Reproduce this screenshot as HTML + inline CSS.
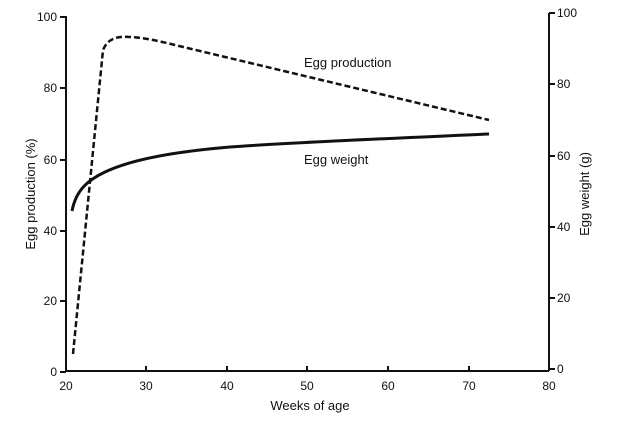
<!DOCTYPE html>
<html><head><meta charset="utf-8"><style>
html,body{margin:0;padding:0;background:#fff;width:620px;height:422px;overflow:hidden}
text{font-family:"Liberation Sans",Arial,sans-serif;fill:#111}
</style></head><body>
<svg width="620" height="422" viewBox="0 0 620 422">
<g stroke="#111" stroke-width="2" fill="none">
<line x1="66" y1="16" x2="66" y2="372"/>
<line x1="549" y1="13" x2="549" y2="371"/>
<line x1="66" y1="371" x2="549" y2="371"/>
<!-- left ticks -->
<line x1="60" y1="17" x2="66" y2="17"/><line x1="60" y1="88" x2="66" y2="88"/>
<line x1="60" y1="160" x2="66" y2="160"/><line x1="60" y1="231" x2="66" y2="231"/>
<line x1="60" y1="301" x2="66" y2="301"/><line x1="60" y1="372" x2="66" y2="372"/>
<!-- right ticks -->
<line x1="549" y1="13" x2="555" y2="13"/><line x1="549" y1="84" x2="555" y2="84"/>
<line x1="549" y1="156" x2="555" y2="156"/><line x1="549" y1="227" x2="555" y2="227"/>
<line x1="549" y1="298" x2="555" y2="298"/><line x1="549" y1="369" x2="555" y2="369"/>
<!-- x ticks -->
<line x1="146" y1="366" x2="146" y2="371"/><line x1="227" y1="366" x2="227" y2="371"/>
<line x1="307" y1="366" x2="307" y2="371"/><line x1="388" y1="366" x2="388" y2="371"/>
<line x1="469" y1="366" x2="469" y2="371"/>
</g>
<path d="M73,354 L103,50 C108,38 118,36 130,37 C150,38 170,44 200,51 L489,120" stroke="#111" stroke-width="2.5" fill="none" stroke-dasharray="6,3"/>
<path d="M72,211 C76,190 88,180 105,172 C130,160 170,152 230,147 C300,142 400,138 489,134" stroke="#111" stroke-width="3" fill="none"/>
<g font-size="12" text-anchor="end">
<text x="57" y="21">100</text><text x="57" y="92">80</text><text x="57" y="164">60</text>
<text x="57" y="235">40</text><text x="57" y="305">20</text><text x="57" y="376">0</text>
</g>
<g font-size="12" text-anchor="start">
<text x="557" y="17">100</text><text x="557" y="88">80</text><text x="557" y="160">60</text>
<text x="557" y="231">40</text><text x="557" y="302">20</text><text x="557" y="373">0</text>
</g>
<g font-size="12" text-anchor="middle">
<text x="66" y="390">20</text><text x="146" y="390">30</text><text x="227" y="390">40</text>
<text x="307" y="390">50</text><text x="388" y="390">60</text><text x="469" y="390">70</text>
<text x="549" y="390">80</text>
<text x="310" y="410" font-size="13">Weeks of age</text>
</g>
<text x="304" y="67" font-size="13">Egg production</text>
<text x="304" y="164" font-size="13">Egg weight</text>
<text transform="translate(35,194) rotate(-90)" font-size="13" text-anchor="middle">Egg production (%)</text>
<text transform="translate(589,194) rotate(-90)" font-size="13" text-anchor="middle">Egg weight (g)</text>
</svg>
</body></html>
